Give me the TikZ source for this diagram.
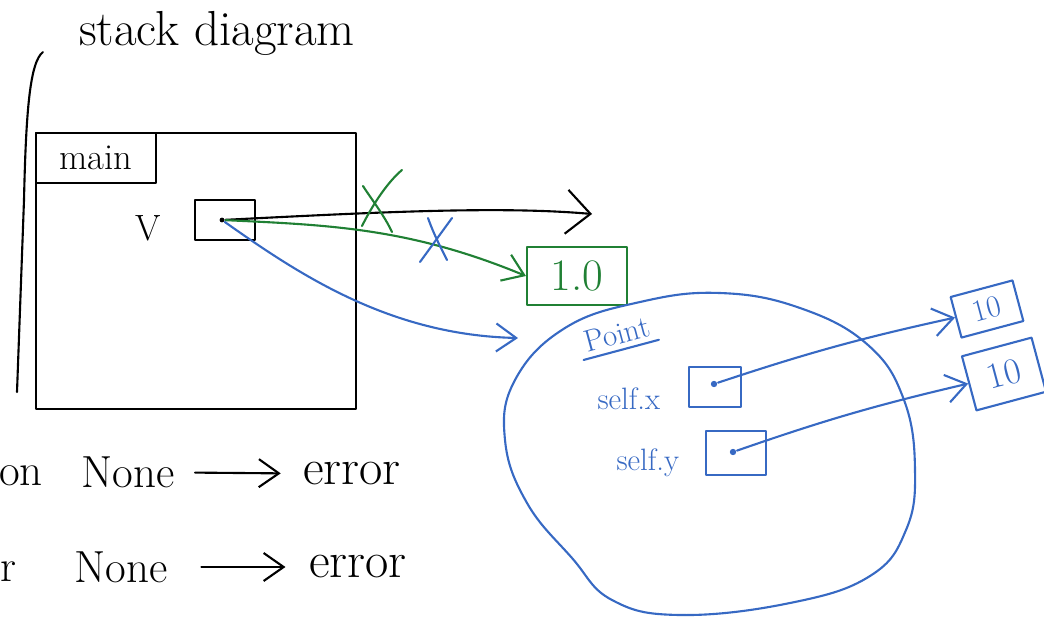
\documentclass[tikz,border=0pt]{standalone}
\usepackage{tikz}
\usetikzlibrary{positioning}
\usetikzlibrary{arrows.meta}
\usepackage{xcolor}
\definecolor{penblue}{RGB}{55,105,195}
\definecolor{pengreen}{RGB}{32,128,52}

\begin{document}
\begin{tikzpicture}[
  x=0.025cm, y=-0.025cm,
  line width=1.5pt, line cap=round, line join=round,
  huge/.style={font=\fontsize{36}{40}\selectfont},
  big/.style={font=\fontsize{32}{36}\selectfont},
  mid/.style={font=\fontsize{26}{30}\selectfont},
  small/.style={font=\fontsize{22}{26}\selectfont},
  cell/.style={draw, inner sep=0pt, align=center},
  arrow/.style={-{Straight Barb[length=5mm, width=7mm]}},
  bigarrow/.style={-{Straight Barb[length=6mm, width=11mm]}},
  dot/.style={circle, fill, inner sep=1.6pt}
]
\path[use as bounding box] (0,0) rectangle (1044,619);

\node[font=\fontsize{35}{40}\selectfont] (title) at (217,33) {stack diagram};
\draw (43,52) .. controls (30,62) and (26,110) .. (24,200) -- (17,392);

% main frame
\node[draw, minimum width=8cm, minimum height=6.9cm] (frame) at (196,271) {};
\node[cell, mid, anchor=north west, minimum width=3cm, minimum height=1.25cm] (mainlbl) at (frame.north west) {main};
\node[mid] (vname) at (148,228) {V};
\node[cell, minimum width=1.5cm, minimum height=1cm] (vbox) at (225,220) {};
\node[dot, inner sep=1.2pt] (vdot) at (222,220) {};

% float object
\node[cell, big, draw=pengreen, text=pengreen, minimum width=2.5cm, minimum height=1.45cm] (num) at (577,276) {1.0};
\coordinate (tip) at (592,214);

\draw[bigarrow] (vdot) .. controls (380,212) and (500,206) .. (tip);
\draw[arrow, pengreen] (vdot) .. controls (330,225) and (410,228) .. (num.west);
\draw[arrow, penblue] (vdot) .. controls (300,275) and (390,335) .. (518,338);

% crossed out
\draw[pengreen] (362,226) .. controls (375,200) and (390,180) .. (402,170);
\draw[pengreen] (363,186) .. controls (372,200) and (384,215) .. (392,232);
\draw[penblue] (420,262) -- (452,218);
\draw[penblue] (428,218) .. controls (434,235) and (442,250) .. (447,260);

% Point object
\draw[penblue] plot[smooth cycle, tension=0.7] coordinates {
  (565,328) (640,302) (720,293) (800,308) (868,345) (904,400) (915,470)
  (906,530) (870,576) (790,603) (680,615) (612,600) (572,558) (527,503)
  (505,440) (515,380)};
\node[small, text=penblue, rotate=15] (ptname) at (617,334) {Point};
\draw[penblue] (ptname.south west) -- (ptname.south east);

\node[cell, draw=penblue, minimum width=1.3cm, minimum height=1cm] (sx) at (715,387) {};
\node[cell, draw=penblue, minimum width=1.5cm, minimum height=1.1cm] (sy) at (736,453) {};
\node[small, text=penblue, left=0.55cm of sx, yshift=-0.3cm] (sxname) {self.x};
\node[small, text=penblue, left=0.5cm of sy, yshift=-0.25cm] (syname) {self.y};
\node[dot, penblue] (sxdot) at (714,384) {};
\node[dot, penblue] (sydot) at (733,452) {};

\node[cell, small, draw=penblue, text=penblue, rotate=15, minimum width=1.6cm, minimum height=1.05cm] (ten1) at (987,309) {10};
\node[cell, mid, draw=penblue, text=penblue, rotate=15, minimum width=1.8cm, minimum height=1.4cm] (ten2) at (1004,374) {10};

\draw[arrow, penblue] (sxdot) to[bend left=3] (ten1.west);
\draw[arrow, penblue] (sydot) to[bend left=3] (ten2.west);

% None
\node[big, anchor=west, inner sep=0pt] (on) at (-2,476) {on};
\node[big] (none1) at (128,472) {None};
\node[huge] (err1) at (352,474) {error};
\draw[arrow, shorten <=3.7mm, shorten >=4.2mm] (none1) -- (err1);
\node[big, anchor=west, inner sep=0pt] (rr) at (-1,572) {r};
\node[big] (none2) at (121,567) {None};
\node[huge] (err2) at (358,567) {error};
\draw[arrow, shorten <=7mm, shorten >=4.5mm] (none2) -- (err2);
\end{tikzpicture}
\end{document}
